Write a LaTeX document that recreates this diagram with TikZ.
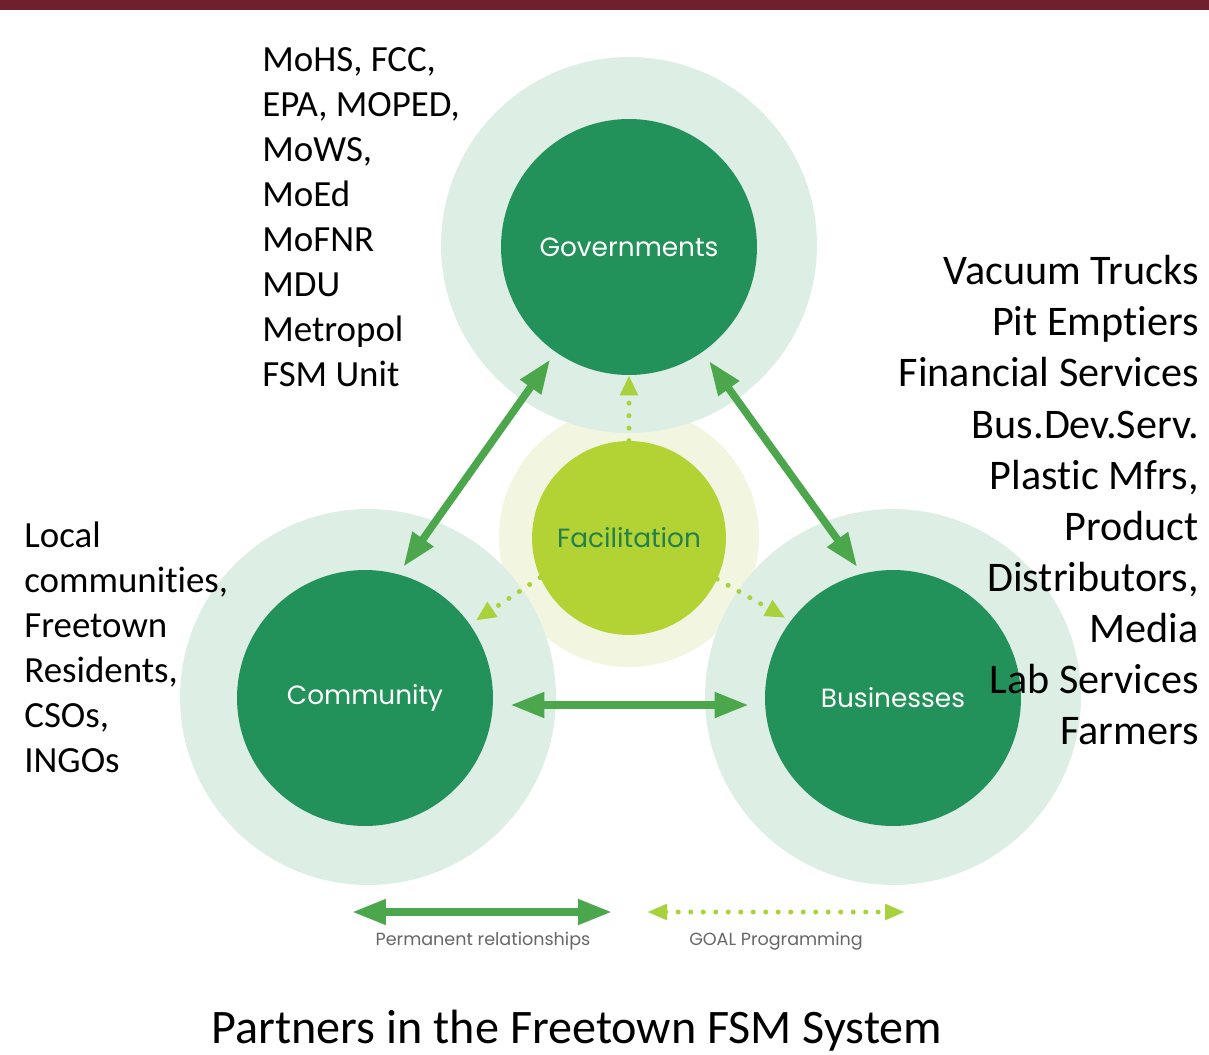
\documentclass[tikz,border=0pt]{standalone}
\usepackage{fontspec}
\setmainfont{Carlito}[Ligatures=NoCommon]
\newfontfamily\circfont{Poppins}
\usetikzlibrary{arrows.meta}
\definecolor{barred}{HTML}{6F1F2D}
\definecolor{ringgreen}{HTML}{DDEEE5}
\definecolor{hubgreen}{HTML}{23915A}
\definecolor{facpale}{HTML}{F2F6E1}
\definecolor{faclime}{HTML}{B3D335}
\definecolor{factext}{HTML}{23804A}
\definecolor{relgreen}{HTML}{4CA64C}
\definecolor{goallime}{HTML}{A9D13B}
\definecolor{legendgray}{HTML}{666666}

\begin{document}
\begin{tikzpicture}[
        x=0.02cm, y=-0.02cm,
        ring/.style={circle, inner sep=0pt, minimum size=7.52cm, fill=ringgreen},
        hub/.style={circle, inner sep=0pt, minimum size=5.12cm, fill=hubgreen, text=white, font=\circfont\fontsize{15}{17}\selectfont},
        facring/.style={circle, inner sep=0pt, minimum size=5.2cm, fill=facpale},
        fachub/.style={circle, inner sep=0pt, minimum size=3.88cm, fill=faclime, text=factext, font=\circfont\fontsize{15}{17}\selectfont},
        liste/.style={inner sep=0pt, font=\fontsize{21}{25.6}\selectfont},
        legende/.style={text=legendgray, font=\circfont\fontsize{10}{12}\selectfont},
        rel/.style={{Triangle[length=0.68cm, width=0.48cm]}-{Triangle[length=0.68cm, width=0.48cm]}, line width=0.15cm, draw=relgreen},
        goal/.style={-{Triangle[length=0.4cm, width=0.34cm]}, line width=0.1cm, draw=goallime, dash pattern=on 0pt off 0.25cm, line cap=round}
    ]
    \useasboundingbox (0,0) rectangle (1209,1054);
    \fill[barred] (0,0) rectangle (1209,10);

    % --- CIRCLES ---
    \node[facring] (facout) at (629,537) {};
    \node[ring] (govout) at (629,245) {};
    \node[ring] (comout) at (368,697) {};
    \node[ring] (busout) at (893,697) {};
    \node[hub] (gov) at (629,247) {Governments};
    \node[hub] (com) at (365,698) {Community};
    \node[hub] (bus) at (893,698) {Businesses};
    \node[fachub] (fac) at (629,538) {Facilitation};

    % --- CONNECTORS ---
    \draw[rel, shorten <=0.18cm, shorten >=0.18cm] (gov.235.7) -- (com.75.2);
    \draw[rel, shorten <=0.22cm, shorten >=0.16cm] (gov.305.6) -- (bus.104);
    \draw[rel, shorten <=0.34cm, shorten >=0.32cm] ([yshift=-0.14cm]com.east) -- ([yshift=-0.14cm]bus.west);
    \draw[goal] (fac.north) -- (gov.south);
    \draw[goal, shorten >=0.14cm] (fac.204.7) -- (com.35.7);
    \draw[goal, shorten >=0.12cm] (fac.335.3) -- (bus.143.8);

    % --- PARTNERS ---
    \node[liste, anchor=north west, align=left] (govlist) at (262,47) {MoHS, FCC,\\EPA, MOPED,\\MoWS,\\MoEd\\MoFNR\\MDU\\Metropol\\FSM Unit};
    \node[liste, anchor=north west, align=left] (comlist) at (24,522) {Local\\communities,\\Freetown\\Residents,\\CSOs,\\INGOs};
    \node[liste, anchor=north east, align=right, font=\fontsize{24}{29.1}\selectfont] (buslist) at (1199,255) {Vacuum Trucks\\Pit Emptiers\\Financial Services\\Bus.Dev.Serv.\\Plastic Mfrs,\\Product\\Distributors,\\Media\\Lab Services\\Farmers};

    % --- LEGEND ---
    \coordinate (permA) at (352,912);
    \coordinate (permB) at (612,912);
    \coordinate (goalA) at (647,912);
    \coordinate (goalB) at (905,912);
    \draw[rel] (permA) -- (permB);
    \draw[goal, {Triangle[length=0.4cm, width=0.3cm]}-{Triangle[length=0.4cm, width=0.3cm]}] (goalA) -- (goalB);
    \node[legende] (perm) at (483,941) {Permanent relationships};
    \node[legende] (goalprog) at (776,941) {GOAL Programming};

    \node[font=\fontsize{27.4}{32}\selectfont] (titre) at (577,1031) {Partners in the Freetown FSM System};
\end{tikzpicture}
\end{document}
